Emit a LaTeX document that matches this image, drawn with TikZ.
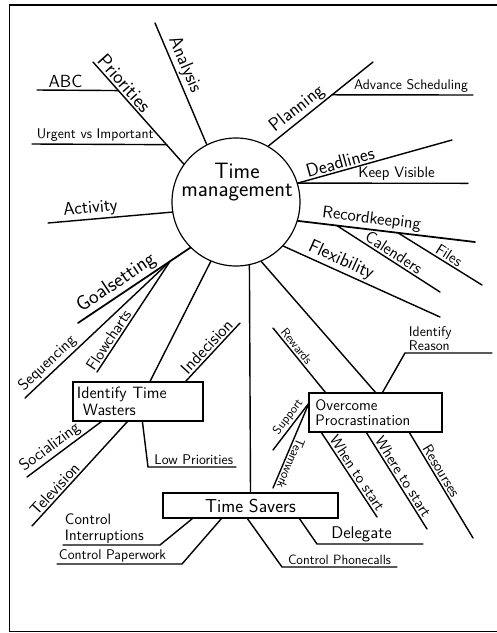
\documentclass[tikz,border=0pt]{standalone}
\usetikzlibrary{calc}
\tikzset{%
  branch/.style={line width=1.2pt, line cap=round},
  frame/.style={line width=1.3pt},
  hub/.style={circle, draw=black, line width=1pt, minimum size=3.84cm, inner sep=0pt},
  tbox/.style={draw=black, line width=1pt, inner sep=0pt},
  lbl/.style={font=\sffamily\fontsize{#1}{#1}\selectfont, inner sep=1.5pt},
  lbl/.default=13
}

\begin{document}
\begin{tikzpicture}[x=0.03cm, y=-0.03cm]
  \useasboundingbox (0,0) rectangle (497,633);
  \draw[frame] (497,5) -- (9.5,5) -- (9.5,631.5) -- (497,631.5);

  % centre
  \node[hub] (tm) at (236,202) {};
  \node[lbl=19, align=center] (tmtxt) at ($(tm.center)+(1,-20)$) {Time\\[-3pt]management};

  % boxes
  \node[tbox, minimum width=3.9cm, minimum height=1.17cm, text width=3.66cm, align=left,
        lbl=14] (itw) at (138,401.5) {Identify Time\\\hspace*{5pt}Wasters};
  \node[tbox, minimum width=5.25cm, minimum height=0.75cm, lbl=16] (ts) at (250.5,505.5) {Time Savers};
  \node[tbox, minimum width=3.99cm, minimum height=1.17cm, text width=3.6cm, align=left,
        lbl=13] (op) at (375.5,412.5) {Overcome\\Procrastination};

  % free ends
  \coordinate (an) at (155,23);
  \coordinate (pr) at (93,62);
  \coordinate (abc) at (37,90);
  \coordinate (urg) at (32,144);
  \coordinate (ac) at (48,223);
  \coordinate (gs) at (78,323);
  \coordinate (sq) at (25,398);
  \coordinate (fl) at (97,372);
  \coordinate (ind) at (240,323);
  \coordinate (so) at (27,477);
  \coordinate (tv) at (32,526);
  \coordinate (lpa) at (148,467);
  \coordinate (lpb) at (236,467);
  \coordinate (cia) at (160,545);
  \coordinate (cib) at (63,545);
  \coordinate (cpa) at (182,564);
  \coordinate (cpb) at (57,564);
  \coordinate (dea) at (317,544);
  \coordinate (deb) at (423,544);
  \coordinate (pca) at (282,567);
  \coordinate (pcb) at (397,567);
  \coordinate (ira) at (405,353);
  \coordinate (irb) at (492,353);
  \coordinate (rw) at (273,328);
  \coordinate (opc) at (309,403);
  \coordinate (sp) at (273,450);
  \coordinate (tw) at (273,488);
  \coordinate (wn) at (377,517);
  \coordinate (wh) at (427,529);
  \coordinate (rs) at (473,538);
  \coordinate (fx) at (440,317);
  \coordinate (rk) at (475,242);
  \coordinate (ca) at (440,292);
  \coordinate (fi) at (482,285);
  \coordinate (dl) at (452,140);
  \coordinate (kv) at (468,183.3);
  \coordinate (pl) at (373,62);
  \coordinate (adv) at (473,95);

  % upper left
  \draw[branch] (tm.117) -- (an) node[lbl=16, sloped, above, pos=0.62] {Analysis};
  \draw[branch] (tm.144) -- (pr) node[lbl=17, sloped, above, pos=0.73] {Priorities}
    coordinate[pos=0.72] (prA) coordinate[pos=0.19] (prB);
  \draw[branch] (abc) -- (prA) node[lbl=15, above, pos=0.35] {ABC};
  \draw[branch] (urg) -- (prB) node[lbl=12, above, pos=0.47] {Urgent vs Important};
  \draw[branch] (tm.189) -- (ac) node[lbl=15.5, sloped, above, pos=0.65] {Activity};

  % goalsetting
  \draw[branch, line width=1.5pt] (tm.225) -- (gs) node[lbl=17.5, sloped, above, pos=0.6] {Goalsetting}
    coordinate[pos=0.18] (gsA);
  \draw[branch] (sq) -- (gsA) node[lbl=13.5, sloped, above, pos=0.2] {Sequencing};
  \draw[branch] (fl) -- (gsA) node[lbl=13.5, sloped, above, pos=0.25] {Flowcharts};

  % identify time wasters
  \draw[branch] (tm.247) -- ($(itw.north)+(12,0)$);
  \draw[branch] ($(itw.north east)+(-18,0)$) -- (ind) node[lbl=14.5, sloped, above, pos=0.5] {Indecision};
  \draw[branch] (so) -- ($(itw.south west)+(29,0)$) node[lbl=14, sloped, above, pos=0.39] {Socializing};
  \draw[branch] (tv) -- ($(itw.south west)+(55,0)$) node[lbl=14, sloped, above, pos=0.3] {Television};
  \draw[branch] ($(itw.south west)+(70,0)$) -- (lpa) -- (lpb) node[lbl=12, above, pos=0.52] {Low Priorities};

  % time savers
  \draw[branch] (tm.282.5) -- (ts.north);
  \draw[branch] ($(ts.south west)+(30,0)$) -- (cia) -- (cib);
  \node[lbl=13, anchor=south west, align=left] (citxt) at (cib) {Control\\Interruptions};
  \draw[branch] ($(ts.south west)+(59,0)$) -- (cpa) -- (cpb);
  \node[lbl=12, anchor=south west] (cptxt) at (cpb) {Control Paperwork};
  \draw[branch] ($(ts.south west)+(137,0)$) -- (dea) -- (deb) node[lbl=14.5, above, pos=0.42] {Delegate};
  \draw[branch] ($(ts.south west)+(85,0)$) -- (pca) -- (pcb) node[lbl=11.5, above, pos=0.5] {Control Phonecalls};

  % overcome procrastination
  \draw[branch] (tm.293) -- (op.north);
  \draw[branch] ($(op.north)+(7,0)$) -- (ira) -- (irb);
  \node[lbl=12, anchor=south west, align=left] (irtxt) at ($(ira)+(2,0)$) {Identify\\Reason};
  \draw[branch] (rw) -- ($(op.north west)+(17,0)$) node[lbl=10.5, sloped, above, pos=0.35] {Rewards};
  \draw[branch] (sp) -- (opc) node[lbl=10.5, sloped, above, pos=0.6] {Support};
  \draw[branch] (opc) -- (tw) node[lbl=11, sloped, allow upside down, above, pos=0.68] {Teamwork};
  \draw[branch] ($(op.south west)+(13,0)$) -- (wn) node[lbl=13, sloped, above, pos=0.53] {When to start};
  \draw[branch] ($(op.south west)+(58,0)$) -- (wh) node[lbl=13, sloped, above, pos=0.5] {Where to start};
  \draw[branch] ($(op.south west)+(101,0)$) -- (rs) node[lbl=12.5, sloped, above, pos=0.4] {Resourses};

  % right side
  \draw[branch] (tm.317) -- (fx) node[lbl=16, sloped, above, pos=0.34] {Flexibility};
  \draw[branch, line width=1.5pt] (tm.343) -- (rk) node[lbl=14.5, sloped, above, pos=0.41] {Recordkeeping}
    coordinate[pos=0.22] (rkA) coordinate[pos=0.565] (rkB);
  \draw[branch] (rkA) -- (ca) node[lbl=14, sloped, above, pos=0.51] {Calenders};
  \draw[branch] (rkB) -- (fi) node[lbl=13, sloped, above, pos=0.56] {Files};
  \draw[branch] (tm.17) -- (dl) node[lbl=16, sloped, above, pos=0.29] {Deadlines};
  \draw[branch] (tm.17) -- (kv) node[lbl=13, above, pos=0.58] {Keep Visible};
  \draw[branch] (tm.60) -- (pl) node[lbl=16, sloped, above, pos=0.34] {Planning}
    coordinate[pos=0.61] (plA);
  \draw[branch] (plA) -- (adv) node[lbl=12, above, pos=0.56] {Advance Scheduling};
\end{tikzpicture}
\end{document}
